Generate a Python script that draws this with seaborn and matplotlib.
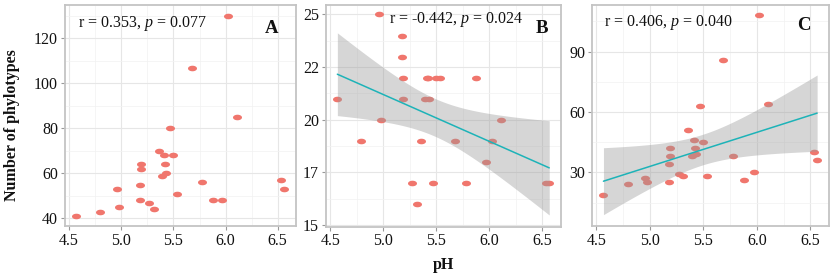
import numpy as np
import pandas as pd
import matplotlib
matplotlib.use("Agg")
import matplotlib.pyplot as plt
from matplotlib.path import Path
from matplotlib.ticker import FixedLocator, FixedFormatter
import seaborn as sns

# ---- data ----
ph = [4.567, 4.793, 4.955, 4.978, 5.175, 5.18, 5.185, 5.19, 5.27, 5.315, 5.357,
      5.39, 5.41, 5.42, 5.43, 5.465, 5.5, 5.538, 5.68, 5.777, 5.876, 5.97,
      6.02, 6.105, 6.532, 6.564]
val_a = [41, 43, 53, 45, 55, 48, 64, 62, 47, 44, 70, 59, 68, 64, 60, 80, 68,
         51, 107, 56, 48, 48, 130, 85, 57, 53]
val_b = [21, 19, 25, 20, 24, 23, 22, 21, 17, 16, 19, 21, 22, 22, 21, 17, 22,
         22, 19, 17, 22, 18, 19, 20, 17, 17]
val_c = [19, 24, 27, 25, 34, 25, 42, 38, 29, 28, 51, 38, 46, 42, 39, 63, 45,
         28, 86, 38, 26, 30, 108, 64, 40, 36]

panel_letters = ["A", "B", "C"]
stats_text = ["r = 0.353, $p$ = 0.077", "r = -0.442, $p$ = 0.024",
              "r = 0.406, $p$ = 0.040"]
x_ticks = [4.5, 5.0, 5.5, 6.0, 6.5]
x_ticklabels = ["4.5", "5.0", "5.5", "6.0", "6.5"]
y_ticks_a = [40, 60, 80, 100, 120]
y_ticklabels_a = ["40", "60", "80", "100", "120"]
y_ticks_b = [15, 17.5, 20, 22.5, 25]
y_ticklabels_b = ["15", "17", "20", "22", "25"]
y_ticks_c = [30, 60, 90]
y_ticklabels_c = ["30", "60", "90"]
ylabel = "Number of phylotypes"
xlabel = "pH"

df = pd.DataFrame({"pH": ph, "A": val_a, "B": val_b, "C": val_c})

sns.set_theme(style="white")
plt.rcParams["font.family"] = ["Liberation Serif", "DejaVu Serif"]
plt.rcParams["mathtext.fontset"] = "custom"
plt.rcParams["mathtext.rm"] = "Liberation Serif"
plt.rcParams["mathtext.it"] = "Liberation Serif:italic"

W, H = 836, 276
fig = plt.figure(figsize=(W / 100, H / 100), dpi=100)


def box(l, r, t, b):
    return [l / W, 1 - b / H, (r - l) / W, (b - t) / H]


axes = [fig.add_axes(box(65, 296, 5, 226)),
        fig.add_axes(box(326, 561, 5, 226.5)),
        fig.add_axes(box(592, 829, 5, 226))]

# ellipse marker (points look horizontally stretched)
th = np.linspace(0, 2 * np.pi, 40)
ell = Path(np.column_stack([np.cos(th), 0.62 * np.sin(th)]), closed=True)

pt_color = "#F0766D"
line_color = "#1DB3B8"
frame_color = "#c4c4c4"
T975 = 2.0639  # t quantile, 24 degrees of freedom


def conf_band(x, y, grid):
    x = np.asarray(x, float)
    y = np.asarray(y, float)
    n = len(x)
    b1, b0 = np.polyfit(x, y, 1)
    resid = y - (b0 + b1 * x)
    s = np.sqrt(np.sum(resid ** 2) / (n - 2))
    sxx = np.sum((x - x.mean()) ** 2)
    fit = b0 + b1 * grid
    se = s * np.sqrt(1 / n + (grid - x.mean()) ** 2 / sxx)
    return fit - T975 * se, fit + T975 * se


cols = ["A", "B", "C"]
yticks = [(y_ticks_a, y_ticklabels_a), (y_ticks_b, y_ticklabels_b),
          (y_ticks_c, y_ticklabels_c)]
ylims = [(36.6, 134.8), (14.93, 25.45), (3.4, 113.1)]
text_pos = [(0.056, 0.915), (0.27, 0.933), (0.05, 0.922)]
letter_pos = [(0.893, 0.895), (0.92, 0.895), (0.895, 0.905)]

for i, ax in enumerate(axes):
    col = cols[i]
    sns.scatterplot(data=df, x="pH", y=col, ax=ax, marker=ell, s=42,
                    color=pt_color, linewidth=0, zorder=2, legend=False)
    if i > 0:
        grid = np.linspace(min(ph), max(ph), 100)
        lo, hi = conf_band(df["pH"], df[col], grid)
        ax.fill_between(grid, lo, hi, color="#999999", alpha=0.4,
                        linewidth=0, zorder=3)
        sns.regplot(data=df, x="pH", y=col, ax=ax, scatter=False, ci=None,
                    color=line_color, line_kws={"lw": 1.1, "zorder": 4})
    ax.set_xlim(4.46, 6.675)
    ax.set_ylim(*ylims[i])
    ax.xaxis.set_major_locator(FixedLocator(x_ticks))
    ax.xaxis.set_major_formatter(FixedFormatter(x_ticklabels))
    ax.xaxis.set_minor_locator(FixedLocator([4.75, 5.25, 5.75, 6.25]))
    yt, yl = yticks[i]
    ax.yaxis.set_major_locator(FixedLocator(yt))
    ax.yaxis.set_major_formatter(FixedFormatter(yl))
    step = yt[1] - yt[0]
    minors = [yt[0] - step / 2] + [v + step / 2 for v in yt]
    ax.yaxis.set_minor_locator(FixedLocator(minors))
    ax.grid(which="major", color="#e6e6e6", lw=0.8, zorder=0)
    ax.grid(which="minor", color="#f2f2f2", lw=0.5, zorder=0)
    ax.set_axisbelow(True)
    ax.set_xlabel("")
    ax.set_ylabel("")
    for sp in ax.spines.values():
        sp.set_color(frame_color)
        sp.set_linewidth(1.3)
    ax.tick_params(which="major", length=3, width=0.8, color="#999999",
                   labelsize=11.5, labelcolor="#111111", pad=2,
                   bottom=True, left=True)
    ax.tick_params(which="minor", length=0)
    ax.text(*text_pos[i], stats_text[i], transform=ax.transAxes,
            fontsize=11.5, ha="left", va="center", color="#111111")
    ax.text(*letter_pos[i], panel_letters[i], transform=ax.transAxes,
            fontsize=13.5, fontweight="bold", ha="center", va="center",
            color="#111111")

fig.text(12 / W, 1 - 125 / H, ylabel, rotation=90, ha="center", va="center",
         fontsize=11.5, fontweight="bold", color="#111111")
fig.text(443 / W, 1 - 265 / H, xlabel, ha="center", va="center",
         fontsize=11.5, fontweight="bold", color="#111111")

fig.savefig("out.png", dpi=100)
